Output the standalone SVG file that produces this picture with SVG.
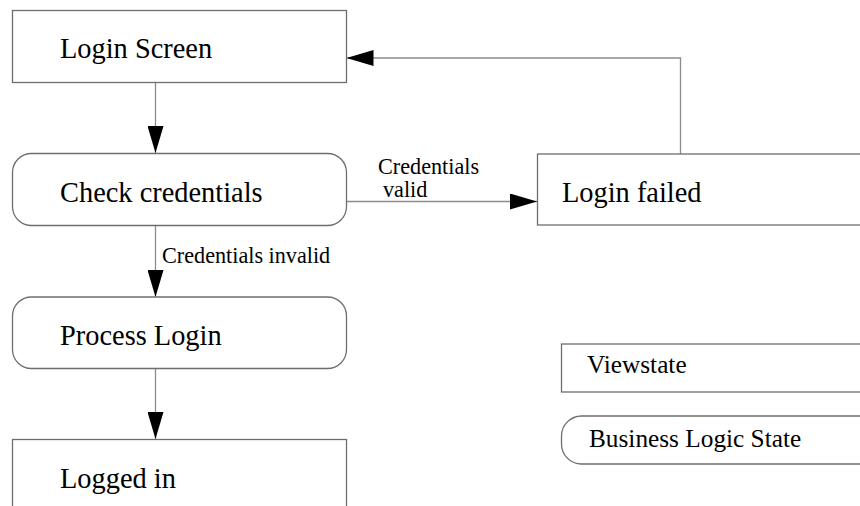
<svg xmlns="http://www.w3.org/2000/svg" width="860" height="506" viewBox="0 0 860 506">
<style>
.box{fill:#fff;stroke:#6e6e6e;stroke-width:1.3}
.t{font-family:"Liberation Serif","Times New Roman",serif;font-size:28.4px;fill:#000}
.lg{font-family:"Liberation Serif","Times New Roman",serif;font-size:25.3px;fill:#000}
.lbl{font-family:"Liberation Serif","Times New Roman",serif;font-size:22.2px;fill:#000}
.c{fill:none;stroke:#8c8c8c;stroke-width:1.3}
</style>
<defs>
<marker id="ah" markerUnits="userSpaceOnUse" markerWidth="28" markerHeight="16" refX="27" refY="8" orient="auto">
<path d="M0,0 L27,8 L0,16 Z" fill="#000"/>
</marker>
</defs>
<rect width="860" height="506" fill="#fff"/>
<g id="connectors">
<line class="c" x1="155.5" y1="82" x2="155.5" y2="153" marker-end="url(#ah)"/>
<line class="c" x1="155.5" y1="225" x2="155.5" y2="297" marker-end="url(#ah)"/>
<line class="c" x1="155.5" y1="368" x2="155.5" y2="439" marker-end="url(#ah)"/>
<line class="c" x1="346" y1="201.5" x2="537" y2="201.5" marker-end="url(#ah)"/>
<polyline class="c" points="680.5,154 680.5,58 346.5,58" marker-end="url(#ah)"/>
<text class="lbl" x="162" y="263">Credentials invalid</text>
<text class="lbl" x="378" y="174">Credentials</text>
<text class="lbl" x="383" y="197">valid</text>
</g>
<g id="login-screen">
<rect class="box" x="12.5" y="10.5" width="334" height="72"/>
<text class="t" x="60" y="58">Login Screen</text>
</g>
<g id="check-credentials">
<rect class="box" x="12.5" y="153.5" width="334" height="72" rx="19" ry="19"/>
<text class="t" x="60" y="201.5">Check credentials</text>
</g>
<g id="process-login">
<rect class="box" x="12.5" y="297" width="334" height="71.5" rx="19" ry="19"/>
<text class="t" x="60" y="345">Process Login</text>
</g>
<g id="logged-in">
<rect class="box" x="12.5" y="439.5" width="334" height="80"/>
<text class="t" x="60" y="488">Logged in</text>
</g>
<g id="login-failed">
<rect class="box" x="537.5" y="154" width="340" height="71"/>
<text class="t" x="562" y="201.5">Login failed</text>
</g>
<g id="legend-viewstate">
<rect class="box" x="561.5" y="344" width="320" height="48"/>
<text class="lg" x="587" y="373">Viewstate</text>
</g>
<g id="legend-business">
<rect class="box" x="561.5" y="416" width="320" height="48" rx="20" ry="20"/>
<text class="lg" x="589" y="447">Business Logic State</text>
</g>
</svg>
